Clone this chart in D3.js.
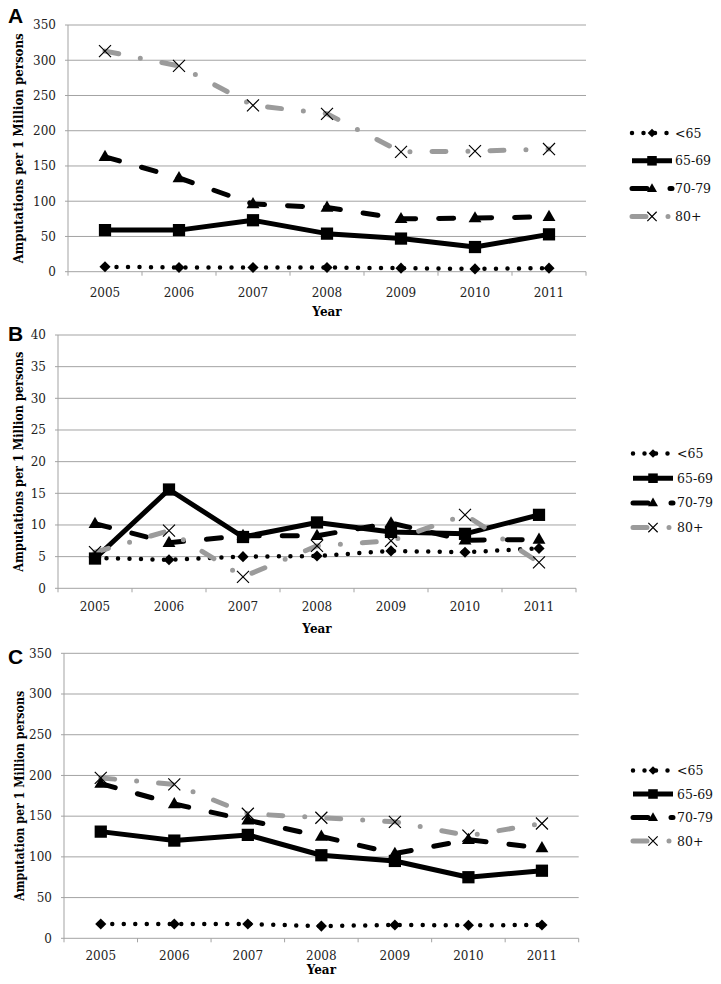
<!DOCTYPE html>
<html>
<head>
<meta charset="utf-8">
<script src="https://cdn.jsdelivr.net/npm/d3@7"></script>
<style>
  body { margin: 0; background: #fff; }
  svg { display: block; }
</style>
</head>
<body>
<script>
// ---------- DATA ----------
const years = ["2005", "2006", "2007", "2008", "2009", "2010", "2011"];
const seriesNames = ["<65", "65-69", "70-79", "80+"];

// Panel A
const panelA_lt65  = [7, 6, 6, 6, 5, 4, 5];
const panelA_65_69 = [59, 59, 73, 54, 47, 35, 53];
const panelA_70_79 = [163, 133, 96, 91, 75, 76, 78];
const panelA_80p   = [313, 292, 236, 224, 170, 171, 174];
const panelA_ticks = [0, 50, 100, 150, 200, 250, 300, 350];

// Panel B
const panelB_lt65  = [4.8, 4.5, 5.0, 5.1, 5.9, 5.7, 6.3];
const panelB_65_69 = [4.7, 15.6, 8.1, 10.4, 8.9, 8.6, 11.6];
const panelB_70_79 = [10.2, 7.2, 8.3, 8.3, 10.3, 7.6, 7.7];
const panelB_80p   = [5.7, 9.1, 1.8, 6.7, 7.5, 11.6, 4.1];
const panelB_ticks = [0, 5, 10, 15, 20, 25, 30, 35, 40];

// Panel C
const panelC_lt65  = [17.6, 17.6, 17.5, 15, 16.3, 16, 16.3];
const panelC_65_69 = [131, 120, 127, 102, 95, 75, 83];
const panelC_70_79 = [190, 165, 145, 125, 104, 121, 111];
const panelC_80p   = [197, 189, 153, 148, 143, 126, 141];
const panelC_ticks = [0, 50, 100, 150, 200, 250, 300, 350];

const panelLetters = ["A", "B", "C"];
const yTitles = ["Amputations per 1 Million persons", "Amputations per 1 Million persons", "Amputation per 1 Million persons"];
const xTitle = "Year";

// ---------- STYLES / LAYOUT ----------
const seriesStyle = [
  { color: "#000", width: 4.5, dash: "0 11.5", marker: "diamond" },
  { color: "#000", width: 5, dash: null, marker: "square" },
  { color: "#000", width: 5, dash: "15 23", marker: "triangle" },
  { color: "#9b9b9b", width: 5, dash: "14 22 0 22", marker: "x" }
];

const panels = [
  { letter: 0, series: [panelA_lt65, panelA_65_69, panelA_70_79, panelA_80p], ticks: panelA_ticks, max: 350,
    left: 68, right: 586, top: 25, bottom: 271.7, letterY: 23, tickLabelDy: 25, yearY: 316, titleX: 19, titleLen: 230,
    legX0: 632, legX1: 672, legText: 675, legY0: 133, legDy: 27.8 },
  { letter: 1, series: [panelB_lt65, panelB_65_69, panelB_70_79, panelB_80p], ticks: panelB_ticks, max: 40,
    left: 58, right: 576, top: 335, bottom: 588.3, letterY: 341, tickLabelDy: 22.5, yearY: 633, titleX: 19, titleLen: 220,
    legX0: 633, legX1: 673, legText: 677, legY0: 453.5, legDy: 24.7 },
  { letter: 2, series: [panelC_lt65, panelC_65_69, panelC_70_79, panelC_80p], ticks: panelC_ticks, max: 350,
    left: 64, right: 578.7, top: 653.3, bottom: 938.3, letterY: 664, tickLabelDy: 22, yearY: 974, titleX: 20, titleLen: 210,
    legX0: 633, legX1: 673, legText: 677, legY0: 770.5, legDy: 23.5 }
];

const W = 721, H = 984;
const svg = d3.select("body").append("svg").attr("width", W).attr("height", H);
svg.append("rect").attr("width", W).attr("height", H).attr("fill", "#fff");

const serif = "'DejaVu Serif', serif";
const gridColor = "#a3a3a3";

function drawMarker(g, type, x, y, k = 1) {
  if (type === "diamond") {
    g.append("path").attr("d", d3.symbol().type(d3.symbolSquare).size(62 * k * k)())
      .attr("transform", `translate(${x},${y}) rotate(45)`).attr("fill", "#000");
  } else if (type === "square") {
    g.append("path").attr("d", d3.symbol().type(d3.symbolSquare).size(150 * k * k)())
      .attr("transform", `translate(${x},${y})`).attr("fill", "#000");
  } else if (type === "triangle") {
    g.append("path").attr("d", d3.symbol().type(d3.symbolTriangle).size(72 * k * k)())
      .attr("transform", `translate(${x},${y + 0.5})`).attr("fill", "#000");
  } else if (type === "x") {
    g.append("path").attr("d", d3.symbol().type(d3.symbolX).size(96 * k * k)())
      .attr("transform", `translate(${x},${y})`).attr("fill", "none")
      .attr("stroke", "#000").attr("stroke-width", 1.2);
  }
}

panels.forEach(p => {
  const x = d3.scaleBand().domain(years).range([p.left, p.right]).padding(0);
  const y = d3.scaleLinear().domain([0, p.max]).range([p.bottom, p.top]);
  const g = svg.append("g");

  // gridlines
  g.selectAll(".grid").data(p.ticks).join("line")
    .attr("x1", p.left - 3).attr("x2", p.right)
    .attr("y1", d => y(d)).attr("y2", d => y(d))
    .attr("stroke", gridColor).attr("stroke-width", 1);

  // left axis line
  g.append("line").attr("x1", p.left).attr("x2", p.left).attr("y1", p.top).attr("y2", p.bottom)
    .attr("stroke", gridColor).attr("stroke-width", 1);

  // x axis tick marks at band boundaries
  const bounds = years.map(d => x(d)).concat([p.right]);
  g.selectAll(".xt").data(bounds).join("line")
    .attr("x1", d => d).attr("x2", d => d).attr("y1", p.bottom).attr("y2", p.bottom + 4)
    .attr("stroke", gridColor).attr("stroke-width", 1);

  // y tick labels
  g.selectAll(".yl").data(p.ticks).join("text")
    .attr("x", p.left - 12).attr("y", d => y(d)).attr("dy", "0.36em")
    .attr("text-anchor", "end").attr("font-family", serif).attr("font-size", 12).attr("fill", "#222")
    .text(d => d);

  // x tick labels
  g.selectAll(".xl").data(years).join("text")
    .attr("x", d => x(d) + x.bandwidth() / 2).attr("y", p.bottom + p.tickLabelDy)
    .attr("text-anchor", "middle").attr("font-family", serif).attr("font-size", 12).attr("fill", "#222")
    .text(d => d);

  // x title
  g.append("text").attr("x", (p.left + p.right) / 2).attr("y", p.yearY)
    .attr("text-anchor", "middle").attr("font-family", serif).attr("font-weight", "bold")
    .attr("font-size", 12).attr("fill", "#000").text(xTitle);

  // y title
  const cy = (p.top + p.bottom) / 2;
  g.append("text").attr("transform", `translate(${p.titleX},${cy}) rotate(-90)`)
    .attr("text-anchor", "middle").attr("dominant-baseline", "central")
    .attr("font-family", serif).attr("font-weight", "bold").attr("font-size", 12)
    .attr("textLength", p.titleLen).attr("lengthAdjust", "spacingAndGlyphs")
    .attr("fill", "#000").text(yTitles[p.letter]);

  // panel letter
  g.append("text").attr("x", 8).attr("y", p.letterY)
    .attr("font-family", "'Liberation Sans', Arial, sans-serif").attr("font-weight", "bold")
    .attr("font-size", 21).attr("fill", "#000").text(panelLetters[p.letter]);

  // series lines
  const line = d3.line().x((d, i) => x(years[i]) + x.bandwidth() / 2).y(d => y(d));
  p.series.forEach((vals, si) => {
    const st = seriesStyle[si];
    g.append("path").attr("d", line(vals)).attr("fill", "none")
      .attr("stroke", st.color).attr("stroke-width", st.width)
      .attr("stroke-linecap", st.dash ? "round" : "butt").attr("stroke-linejoin", "round")
      .attr("stroke-dasharray", st.dash);
  });
  // markers
  p.series.forEach((vals, si) => {
    const st = seriesStyle[si];
    vals.forEach((v, i) => drawMarker(g, st.marker, x(years[i]) + x.bandwidth() / 2, y(v)));
  });

  // legend
  seriesNames.forEach((name, si) => {
    const st = seriesStyle[si];
    const ly = p.legY0 + si * p.legDy;
    g.append("line").attr("x1", p.legX0).attr("x2", p.legX1).attr("y1", ly).attr("y2", ly)
      .attr("stroke", st.color).attr("stroke-width", st.width)
      .attr("stroke-linecap", st.dash ? "round" : "butt").attr("stroke-dasharray", st.dash);
    drawMarker(g, st.marker, (p.legX0 + p.legX1) / 2, ly, 0.78);
    g.append("text").attr("x", p.legText).attr("y", ly).attr("dy", "0.36em")
      .attr("font-family", serif).attr("font-size", 12.5).attr("fill", "#111").text(name);
  });
});
</script>
</body>
</html>
